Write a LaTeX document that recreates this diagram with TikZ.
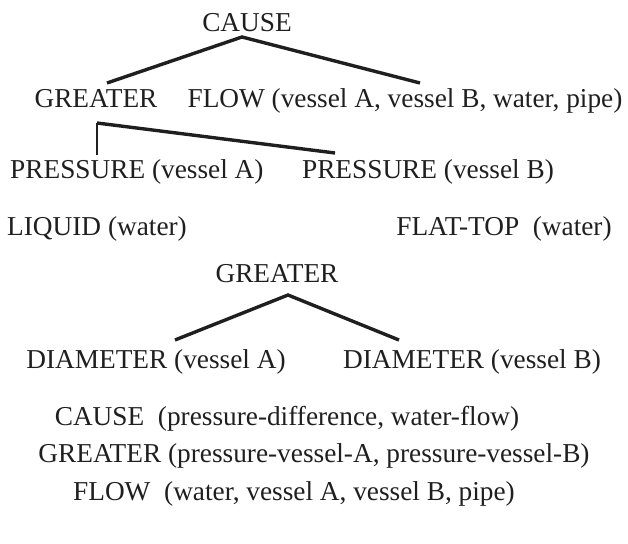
\documentclass[tikz,border=0pt]{standalone}
\usepackage{fontspec}
\setmainfont{Liberation Serif}
\begin{document}
\begin{tikzpicture}[x=1pt,y=-1pt,
  lbl/.style={anchor=base,inner sep=0pt,text=black!88,font=\fontsize{27.3}{32}\selectfont},
  link/.style={line width=3.4pt,draw=black!88}]
\useasboundingbox (0,0) rectangle (628,543);

% upper tree
\node[lbl] (cause) at (247,31) {CAUSE};
\node[lbl] (gr1) at (96,107) {GREATER};
\node[lbl] (flow1) at (405,107) {FLOW (vessel A, vessel B, water, pipe)};
\coordinate (causeTip) at (242,37);
\coordinate (grTop) at (107,83);
\coordinate (flowTop) at (420,83);
\draw[link] (grTop) -- (causeTip) -- (flowTop);

\node[lbl,anchor=base west] (presA) at (10,178) {PRESSURE (vessel A)};
\node[lbl] (presB) at (428,178) {PRESSURE (vessel B)};
\coordinate (grFoot) at (97,123);
\coordinate (presATop) at (97,155);
\coordinate (presBTop) at (335,153);
\draw[link,line width=2.6pt] (presATop) -- (grFoot);
\draw[link] (grFoot) -- (presBTop);

\node[lbl] (liquid) at (97,235) {LIQUID (water)};
\node[lbl] (flat) at (504,235) {FLAT-TOP\ \ (water)};

% lower tree
\node[lbl] (gr2) at (277,282) {GREATER};
\node[lbl] (diaA) at (156,368) {DIAMETER (vessel A)};
\node[lbl] (diaB) at (472,368) {DIAMETER (vessel B)};
\coordinate (gr2Tip) at (288,295);
\coordinate (diaATop) at (175,340);
\coordinate (diaBTop) at (399,340);
\draw[link] (diaATop) -- (gr2Tip) -- (diaBTop);

% relations
\node[lbl] (rel1) at (287,425) {CAUSE\ \ (pressure-difference, water-flow)};
\node[lbl] (rel2) at (314,462) {GREATER (pressure-vessel-A, pressure-vessel-B)};
\node[lbl] (rel3) at (294,500) {FLOW\ \ (water, vessel A, vessel B, pipe)};
\end{tikzpicture}
\end{document}
